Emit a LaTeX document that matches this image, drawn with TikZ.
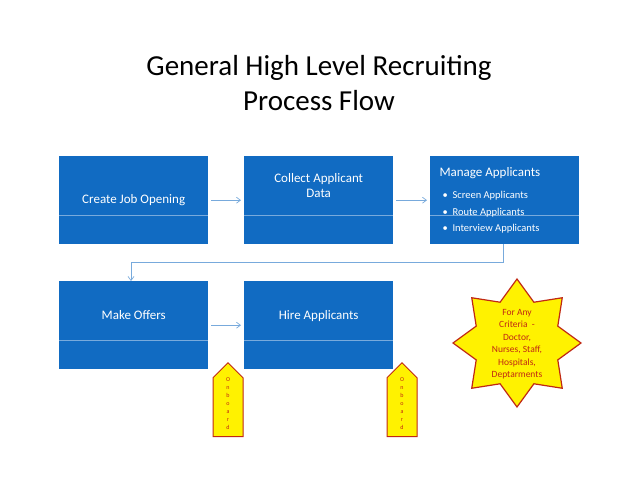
\documentclass[tikz,border=0pt]{standalone}
\usepackage{fontspec}
\setmainfont{Carlito}
\usetikzlibrary{shapes.geometric,shapes.arrows,arrows.meta}
\definecolor{bbox}{RGB}{17,107,194}
\definecolor{bline}{RGB}{120,170,220}
\definecolor{sred}{RGB}{192,40,20}
\begin{document}
\begin{tikzpicture}[x=1pt,y=-1pt,
  box/.style={fill=bbox,text=white,minimum width=149pt,minimum height=88pt,inner sep=0pt,anchor=north west,font=\fontsize{13}{15}\selectfont,align=center},
  conn/.style={draw=bline,-{Straight Barb[length=4pt,width=6pt]},line width=0.7pt},
  uparrow/.style={single arrow,shape border rotate=90,draw=sred,line width=1pt,fill=yellow,minimum width=30pt,single arrow head extend=0pt,single arrow tip angle=90,minimum height=74pt,inner sep=0pt,anchor=north}]
\useasboundingbox (0,0) rectangle (638,493);
\node[font=\fontsize{29}{35}\selectfont,align=center] (title) at (319,83) {General High Level Recruiting\\Process Flow};
\node[box] (b1) at (59,156) {Create Job Opening};
\node[box] (b2) at (244,156) {Collect Applicant\\Data\\[14pt]};
\node[box] (b3) at (430,156) {};
\node[box] (b4) at (59,281) {Make Offers\\[6pt]};
\node[box] (b5) at (244,281) {Hire Applicants\\[6pt]};
\foreach \b in {b1,b2,b3,b4,b5}{\draw[bline,line width=0.6pt] ([yshift=-59pt]\b.north west) -- ([yshift=-59pt]\b.north east);}
\node[anchor=north west,text=white,font=\fontsize{13}{15}\selectfont] (m1) at (436,164) {Manage Applicants};
\node[anchor=north west,text=white,font=\fontsize{10.5}{16.5}\selectfont,align=left] (m2) at (439,188) {•\ \ Screen Applicants\\•\ \ Route Applicants\\•\ \ Interview Applicants};
\draw[conn] (b1.east) ++(3,0) coordinate (c1s) -- ([xshift=-3pt]b2.west);
\draw[conn] ([xshift=3pt]b2.east) -- ([xshift=-3pt]b3.west);
\draw[conn] ([xshift=3pt]b4.east) -- ([xshift=-3pt]b5.west);
\coordinate (k1) at (503,262);
\coordinate (k2) at (131,262);
\draw[conn] (b3.south -| k1) -- (k1) -- (k2) -- (b4.north -| k2);
\node[uparrow] (a1) at (228,362) {};
\node[uparrow] (a2) at (402,362) {};
\foreach \a/\x in {a1/228,a2/402}{\node[text=sred,font=\fontsize{6}{8}\selectfont,align=center] at (\x,404) {O\\n\\b\\o\\a\\r\\d};}
\node[star,star points=8,star point ratio=1.45,draw=sred,line width=1.2pt,fill=yellow,minimum size=128pt,inner sep=0pt,rotate=0] (st) at (517,343) {};
\node[text=sred,font=\fontsize{9.5}{12.5}\selectfont,align=center] (stt) at (517,344) {For Any\\Criteria \ -\\Doctor,\\Nurses, Staff,\\Hospitals,\\Deptarments};
\end{tikzpicture}
\end{document}
